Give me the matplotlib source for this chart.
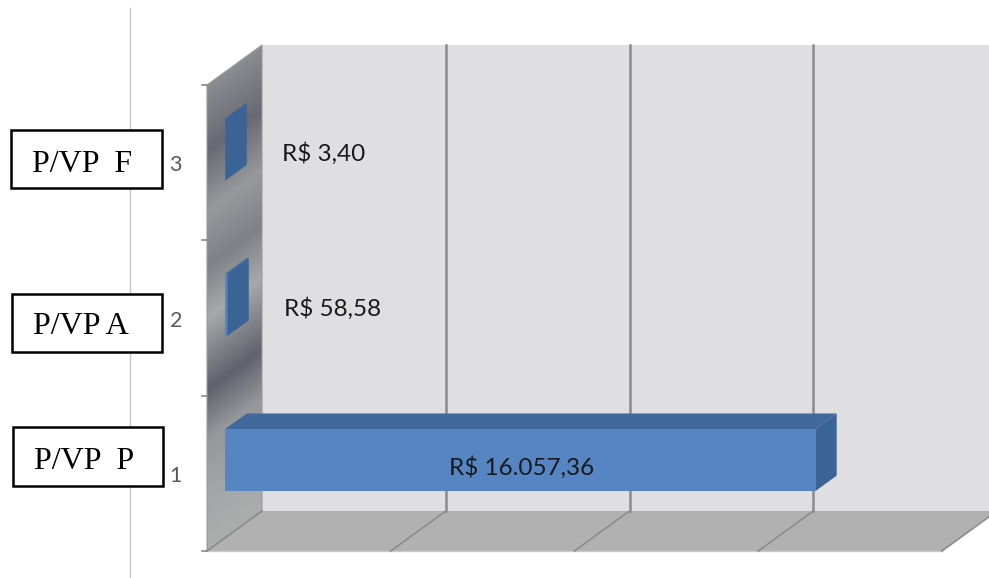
import matplotlib.pyplot as plt
import numpy as np
from matplotlib.patches import Polygon, Rectangle
from matplotlib.lines import Line2D

# Data
categories = [1, 2, 3]
values = [16057.36, 58.58, 3.40]
value_labels = ['R$ 16.057,36', 'R$ 58,58', 'R$ 3,40']
box_labels = ['P/VP  P', 'P/VP A', 'P/VP  F']
grid_values = [0, 5000, 10000, 15000, 20000]
x_max = 20000

W, H = 989, 578
fig = plt.figure(figsize=(W / 100, H / 100), dpi=100)
ax = fig.add_axes([0, 0, 1, 1])
ax.axis('off')
ax.set_zorder(1)
ax.patch.set_alpha(0)

# front plane: value 0 -> px 207, 20000 -> px 942 ; category 0.5 -> py 551, 3.5 -> py 85
kx = (942 - 207) / x_max
ky = (551 - 85) / 3
ax.set_xlim(-207 / kx, (W - 207) / kx)
ax.set_ylim(0.5 - (H - 551) / ky, 0.5 + 551 / ky)

# depth offset of the 3d box (oblique projection)
DX = 55 / kx
DY = 40 / ky


def pt(x, y, d):
    return (x + DX * d, y + DY * d)


# back wall
ax.add_patch(Polygon([pt(0, 0.5, 1), pt(x_max, 0.5, 1), pt(x_max, 3.5, 1), pt(0, 3.5, 1)],
                     closed=True, fc='#dfdfe1', ec='none', zorder=1))

# side wall with metallic gradient
side = Polygon([pt(0, 0.5, 0), pt(0, 3.5, 0), pt(0, 3.5, 1), pt(0, 0.5, 1)],
               closed=True, fc='none', ec='#9a9a9a', lw=0.8, zorder=2)
ax.add_patch(side)
nx, ny = 60, 400
xs = np.linspace(0, DX, nx)
ys = np.linspace(0.5, 3.5 + DY, ny)
XX, YY = np.meshgrid(xs, ys)
frac = (YY - DY * XX / DX - 0.5) / 3
kf = [0.0, 0.11, 0.24, 0.345, 0.50, 0.61, 0.73, 0.86, 1.0]
kg = [172, 165, 150, 96, 168, 128, 152, 104, 140]
g = np.interp(frac, kf, kg)
rgb = np.dstack([g, g + 1, g + (178 - g) * 0.15]) / 255.0
im = ax.imshow(np.clip(rgb, 0, 1), extent=(0, DX, 0.5, 3.5 + DY), origin='lower',
               aspect='auto', interpolation='bilinear', zorder=1)
im.set_clip_path(side)

# floor
ax.add_patch(Polygon([pt(0, 0.5, 0), pt(x_max, 0.5, 0), pt(x_max, 0.5, 1), pt(0, 0.5, 1)],
                     closed=True, fc='#b1b1b1', ec='none', zorder=1))
ax.plot([0, x_max], [0.5, 0.5], color='#cacaca', lw=1, zorder=2)

# gridlines on back wall and floor
for gv in grid_values:
    if 0 < gv < x_max:
        x0, y0 = pt(gv, 0.5, 1)
        x1, y1 = pt(gv, 3.5, 1)
        ax.plot([x0, x1], [y0, y1], color='#8c8c8c', lw=1.8, zorder=2)
    x0, y0 = pt(gv, 0.5, 0)
    x1, y1 = pt(gv, 0.5, 1)
    ax.plot([x0, x1], [y0, y1], color='#8c8c8c', lw=1.2, zorder=2)

# category axis ticks on the front edge of the side wall
for b in [0.5, 1.5, 2.5, 3.5]:
    ax.plot([-5 / kx, 0], [b, b], color='#888888', lw=1.2, zorder=2)
for c in categories:
    ax.annotate(str(c), xy=(0, c), xytext=(-25 * 0.72, -2), textcoords='offset points',
                ha='right', va='center', fontsize=15.5, color='#595959', family='Lato')

# 3d bars
h = 0.2
d0, d1 = 0.33, 0.72
for c, v, lab in zip(categories, values, value_labels):
    top = [pt(0, c + h, d0), pt(v, c + h, d0), pt(v, c + h, d1), pt(0, c + h, d1)]
    end = [pt(v, c - h, d0), pt(v, c + h, d0), pt(v, c + h, d1), pt(v, c - h, d1)]
    front = [pt(0, c - h, d0), pt(v, c - h, d0), pt(v, c + h, d0), pt(0, c + h, d0)]
    ax.add_patch(Polygon(top, closed=True, fc='#41699b', ec='none', zorder=3))
    ax.add_patch(Polygon(end, closed=True, fc='#3a6396', ec='none', zorder=3))
    ax.add_patch(Polygon(front, closed=True, fc='#5585c2', ec='none', zorder=3))
    if v > 2000:
        ax.annotate(lab, xy=pt(v / 2, c, d0), xytext=(1, -5), textcoords='offset points',
                    ha='center', va='center', fontsize=17.5, color='#1a1a1a',
                    family='Lato', zorder=5)
    else:
        ax.annotate(lab, xy=pt(v, c, d0), xytext=(57 * 0.72, -3), textcoords='offset points',
                    ha='left', va='center', fontsize=17.5, color='#1a1a1a', family='Lato',
                    zorder=5)

# thin vertical line from the sheet
fig.add_artist(Line2D([130 / W, 130 / W], [0, 1 - 8 / H], color='#c8c8c8', lw=1, zorder=2))

# boxed labels on the left
boxes = [(13, 427, 150, 59, 469), (12, 294, 150, 58, 334), (11, 130, 151, 58, 172)]
for (bx, by, bw, bh, base), txt in zip(boxes, box_labels):
    fig.add_artist(Rectangle((bx / W, 1 - (by + bh) / H), bw / W, bh / H,
                             transform=fig.transFigure, fc='white', ec='black', lw=1.8,
                             zorder=3))
    t = fig.text((bx + 21) / W, 1 - base / H, txt, ha='left', va='baseline', fontsize=23,
                 family='Liberation Serif', color='black')
    t.set_zorder(4)

fig.savefig('out.png', dpi=100)
